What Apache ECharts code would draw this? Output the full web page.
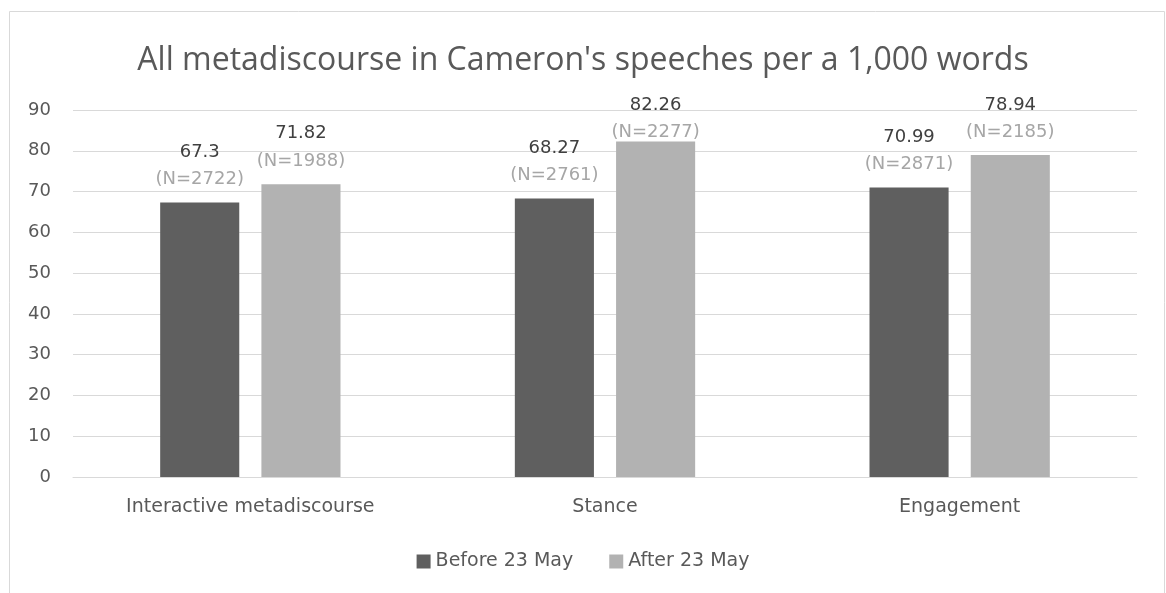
<!DOCTYPE html>
<html><head><meta charset="utf-8">
<script src="https://cdn.jsdelivr.net/npm/echarts@6/dist/echarts.min.js"></script>
<style>html,body{margin:0;padding:0;background:#fff}#c{width:1166px;height:593px}</style>
</head><body><div id="c"></div>
<script>
const categories = ['Interactive metadiscourse', 'Stance', 'Engagement'];
const seriesNames = ['Before 23 May', 'After 23 May'];
const beforeValues = [67.3, 68.27, 70.99];
const afterValues = [71.82, 82.26, 78.94];
const beforeN = [2722, 2761, 2871];
const afterN = [1988, 2277, 2185];
const yTicks = { min: 0, max: 90, interval: 10 };
const titleText = "All metadiscourse in Cameron's speeches per a 1,000 words";

const TFONT = '"Open Sans", "Noto Sans", sans-serif';
const FONT = '"DejaVu Sans", sans-serif';
const LABEL_TOP_LIMIT = 96;
const chart = echarts.init(document.getElementById('c'));
function mkLabel(ns) {
  return {
    show: true, position: 'top', distance: 10,
    formatter: p => '{v|' + p.value + '}\n{n|(N=' + ns[p.dataIndex] + ')}',
    rich: {
      v: { color: '#404040', fontSize: 18, fontFamily: FONT, lineHeight: 29 },
      n: { color: '#a6a6a6', fontSize: 18, fontFamily: FONT, lineHeight: 26 }
    }
  };
}
function clampLayout(params) {
  const r = params.labelRect;
  if (r.y < LABEL_TOP_LIMIT) return { dy: LABEL_TOP_LIMIT - r.y };
  return {};
}
chart.setOption({
  animation: false,
  graphic: [{ type: 'rect', shape: { x: 9.5, y: 11.5, width: 1155, height: 620 },
    style: { fill: 'none', stroke: '#d9d9d9', lineWidth: 1 } }],
  title: { text: titleText, left: 'center', top: 40,
    textStyle: { color: '#595959', fontSize: 32, fontWeight: 'normal', fontFamily: TFONT } },
  legend: { bottom: 17, left: 'center', itemWidth: 14, itemHeight: 14, itemGap: 36,
    icon: 'rect', textStyle: { color: '#595959', fontSize: 19, fontFamily: FONT },
    data: seriesNames },
  grid: { left: 73, right: 29, top: 110, bottom: 116 },
  xAxis: { type: 'category', data: categories,
    axisLine: { lineStyle: { color: '#d9d9d9', width: 1 } }, axisTick: { show: false },
    axisLabel: { color: '#595959', fontSize: 19, fontFamily: FONT, margin: 21 } },
  yAxis: { type: 'value', min: yTicks.min, max: yTicks.max, interval: yTicks.interval,
    axisLine: { show: false }, axisTick: { show: false },
    axisLabel: { color: '#595959', fontSize: 18, fontFamily: FONT, margin: 22 },
    splitLine: { lineStyle: { color: '#d9d9d9', width: 1 } } },
  series: [
    { name: seriesNames[0], type: 'bar', data: beforeValues, barWidth: '22.3%', barGap: '28%',
      itemStyle: { color: '#5f5f5f' }, label: mkLabel(beforeN), labelLayout: clampLayout },
    { name: seriesNames[1], type: 'bar', data: afterValues, barWidth: '22.3%', barGap: '28%',
      itemStyle: { color: '#b2b2b2' }, label: mkLabel(afterN), labelLayout: clampLayout }
  ]
});
</script></body></html>
